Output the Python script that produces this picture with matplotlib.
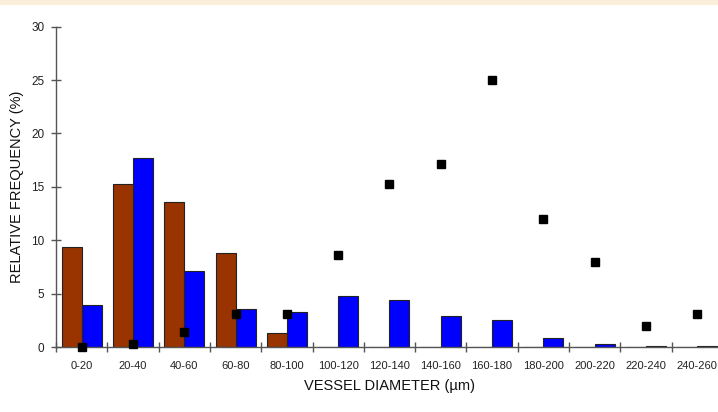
import matplotlib
matplotlib.use("Agg")
import matplotlib.pyplot as plt
import numpy as np
from matplotlib.patches import Rectangle

categories = ["0-20", "20-40", "40-60", "60-80", "80-100", "100-120", "120-140",
              "140-160", "160-180", "180-200", "200-220", "220-240", "240-260"]
brown_vals = [9.4, 15.3, 13.6, 8.8, 1.3, 0, 0, 0, 0, 0, 0, 0, 0]
blue_vals = [3.9, 17.7, 7.1, 3.6, 3.3, 4.8, 4.4, 2.9, 2.5, 0.8, 0.3, 0.05, 0.05]
square_vals = [0.0, 0.3, 1.4, 3.1, 3.1, 8.6, 15.3, 17.1, 25.0, 12.0, 8.0, 2.0, 3.1]
y_ticks = [0, 5, 10, 15, 20, 25, 30]

plt.rcParams['font.family'] = ['Liberation Sans', 'DejaVu Sans']

fig = plt.figure(figsize=(7.18, 4.12), dpi=100)
fig.patch.set_facecolor("white")
fig.add_artist(Rectangle((0, 407/412), 1, 5/412, transform=fig.transFigure,
                         facecolor="#fcefda", edgecolor="none"))

ax = fig.add_axes([56/718, 65/412, 13*51.3/718, 320.3/412])
ax.set_xlim(0, len(categories))
ax.set_ylim(0, 30)

x = np.arange(len(categories)) + 0.5
w = 0.39
ax.bar(x - w/2, brown_vals, width=w, color="#993300", edgecolor="#222222", linewidth=0.8, zorder=2)
ax.bar(x + w/2, blue_vals, width=w, color="#0000ff", edgecolor="#222222", linewidth=0.8, zorder=2)
ax.plot(x, square_vals, linestyle="none", marker="s", markersize=5.8, color="black", zorder=3,
        clip_on=False)

for s in ["top", "right"]:
    ax.spines[s].set_visible(False)
for s in ["left", "bottom"]:
    ax.spines[s].set_color("#555555")
    ax.spines[s].set_linewidth(1.0)

ax.set_yticks(y_ticks)
ax.set_yticklabels([str(v) for v in y_ticks], fontsize=8.5, color="#222222")
ax.tick_params(axis="y", direction="inout", length=7, width=1, color="#555555", pad=5)

ax.set_xticks(np.arange(0, len(categories) + 1))
ax.set_xticklabels([])
ax.tick_params(axis="x", which="major", direction="inout", length=7, width=1, color="#555555")
ax.set_xticks(x, minor=True)
ax.set_xticklabels(categories, minor=True, fontsize=8, color="#222222")
ax.tick_params(axis="x", which="minor", length=0, pad=10)

ax.set_xlabel("VESSEL DIAMETER (µm)", fontsize=10.5, color="#111111", labelpad=6)
ax.set_ylabel("RELATIVE FREQUENCY (%)", fontsize=10.5, color="#111111", labelpad=5)

fig.savefig("out.png", dpi=100)
